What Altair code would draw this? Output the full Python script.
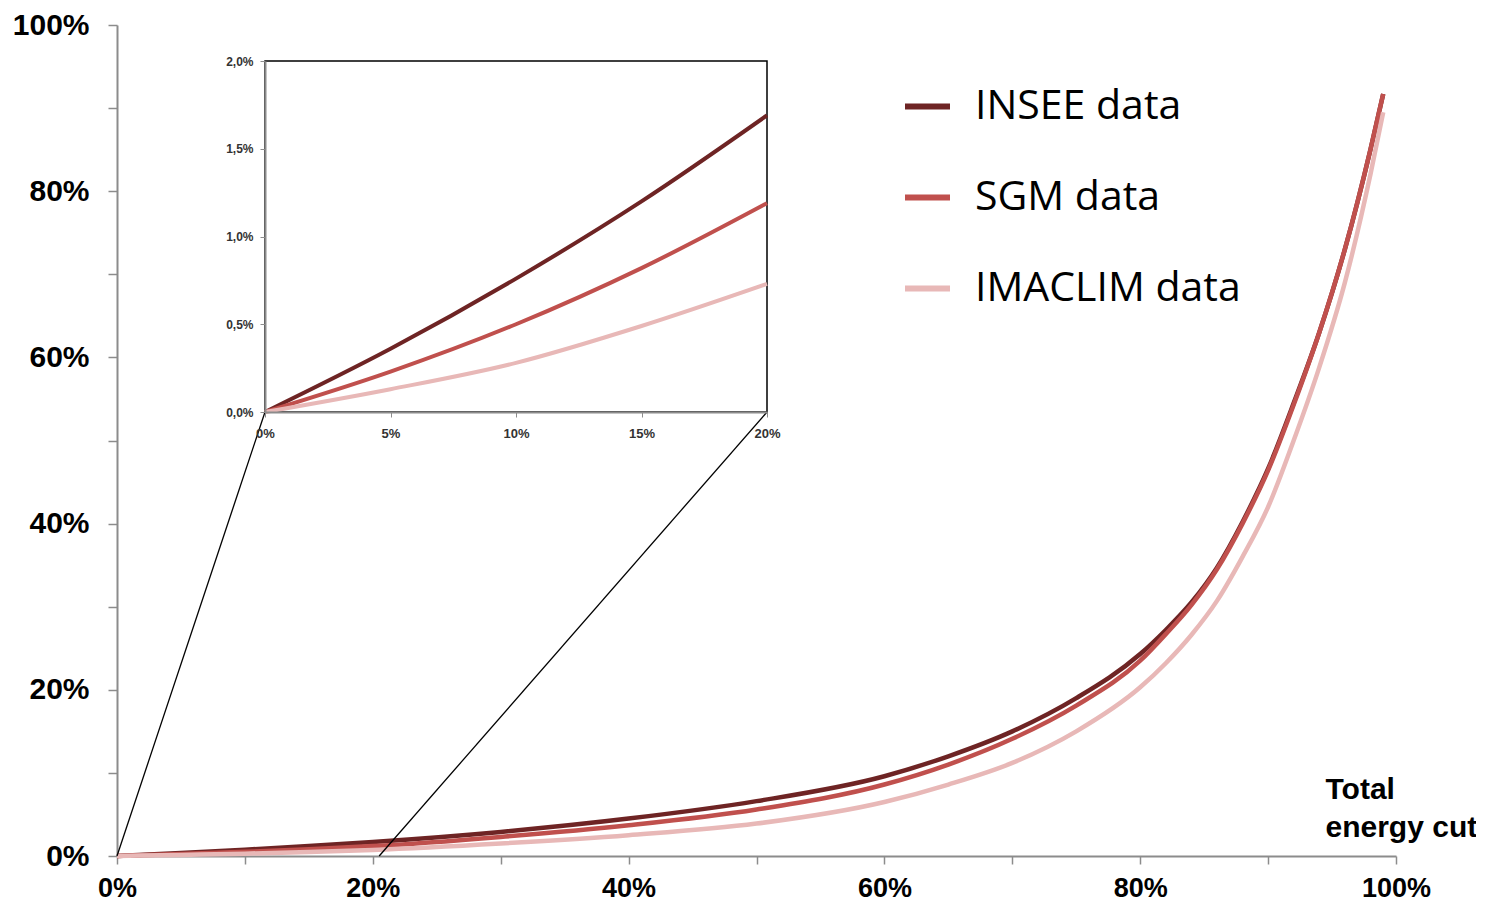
import altair as alt
import pandas as pd

# ---- data ----
cut = [0.0, 0.05, 0.10, 0.15, 0.20, 0.30, 0.40, 0.50, 0.60, 0.65, 0.70, 0.75,
       0.80, 0.82, 0.84, 0.86, 0.88, 0.90, 0.92, 0.94, 0.96, 0.98, 0.99]
insee = [0.0, 0.0036, 0.0076, 0.0120, 0.0169, 0.029, 0.045, 0.066, 0.096, 0.120,
         0.150, 0.190, 0.243, 0.272, 0.305, 0.347, 0.402, 0.466, 0.545, 0.630,
         0.730, 0.850, 0.917]
sgm = [0.0, 0.0023, 0.0050, 0.0082, 0.0119, 0.023, 0.037, 0.056, 0.086, 0.110,
       0.141, 0.181, 0.235, 0.267, 0.302, 0.345, 0.400, 0.464, 0.543, 0.630,
       0.730, 0.850, 0.917]
imaclim = [0.0, 0.0013, 0.0028, 0.0049, 0.0073, 0.015, 0.025, 0.039, 0.065, 0.086,
           0.112, 0.150, 0.203, 0.232, 0.266, 0.307, 0.360, 0.420, 0.500, 0.588,
           0.690, 0.820, 0.895]
series_names = ["INSEE data", "SGM data", "IMACLIM data"]
series_colors = ["#6e2424", "#c0504d", "#e8b8b7"]

main_ticks = [0, 0.1, 0.2, 0.3, 0.4, 0.5, 0.6, 0.7, 0.8, 0.9, 1.0]
inset_x_ticks = [0, 0.05, 0.10, 0.15, 0.20]
inset_y_ticks = [0, 0.005, 0.010, 0.015, 0.020]
x_title = ["Total", "energy cut"]

rows = []
for name, vals in zip(series_names, [insee, sgm, imaclim]):
    for c, v in zip(cut, vals):
        rows.append({"cut": c, "share": v, "series": name})
df = pd.DataFrame(rows)
inset_df = df[df["cut"] <= 0.2001]
one = pd.DataFrame({"k": [0]})

# ---- layout ----
W, H = 1279, 831
INSET_X = [148, 650]     # pixel range of the inset inside the plot area
INSET_Y = [387, 36]
GRAY = "#8c8c8c"
FONT = "Liberation Sans"

color = alt.Color(
    "series:N",
    scale=alt.Scale(domain=series_names, range=series_colors),
    legend=alt.Legend(
        orient="none", legendX=785, legendY=56, title=None, padding=0,
        symbolType="stroke", symbolSize=2025, symbolStrokeWidth=6,
        labelFont="Open Sans", labelFontSize=41, labelColor="black",
        labelOffset=22, rowPadding=45, labelLimit=400,
    ),
)

sx = alt.Scale(domain=[0, 1], nice=False, zero=True)
sy = alt.Scale(domain=[0, 1], nice=False, zero=True)
ax = alt.Axis(
    values=main_ticks, orient="bottom", grid=False,
    labelExpr="round(datum.value*10) % 2 == 0 ? format(datum.value, '.0%') : ''",
    labelFont=FONT, labelFontSize=27, labelFontWeight="bold", labelColor="black",
    labelFlush=False, labelOverlap=False, labelPadding=11,
    domainColor=GRAY, domainWidth=2, tickColor=GRAY, tickWidth=1.5, tickSize=8,
    title=x_title, titleFont=FONT, titleFontSize=30, titleFontWeight="bold",
    titleColor="black", titleX=1208, titleY=-58, titleAlign="left",
    titleBaseline="alphabetic", titleAngle=0, titleLineHeight=38,
)
ay = alt.Axis(
    values=main_ticks, orient="left", grid=False,
    labelExpr="round(datum.value*10) % 2 == 0 ? format(datum.value, '.0%') : ''",
    labelFont=FONT, labelFontSize=30, labelFontWeight="bold", labelColor="black",
    labelFlush=False, labelOverlap=False, labelPadding=19,
    domainColor=GRAY, domainWidth=2, tickColor=GRAY, tickWidth=1.5, tickSize=9,
    title=None,
)

main_lines = alt.Chart(df).mark_line(strokeWidth=4.5, interpolate="monotone").encode(
    x=alt.X("cut:Q", scale=sx, axis=ax),
    y=alt.Y("share:Q", scale=sy, axis=ay),
    color=color,
)
rule_a = alt.Chart(one).mark_rule(color="black", strokeWidth=1.3).encode(
    x=alt.X(datum=0, scale=sx, axis=ax), y=alt.Y(datum=0, scale=sy, axis=ay),
    x2=alt.value(INSET_X[0]), y2=alt.value(INSET_Y[0]),
)
rule_b = alt.Chart(one).mark_rule(color="black", strokeWidth=1.3).encode(
    x=alt.X(datum=0.205, scale=sx, axis=ax), y=alt.Y(datum=0, scale=sy, axis=ay),
    x2=alt.value(INSET_X[1]), y2=alt.value(INSET_Y[0]),
)
main_group = alt.layer(main_lines, rule_a, rule_b)

# ---- inset ----
isx = alt.Scale(domain=[0, 0.2], nice=False, range=INSET_X)
isy = alt.Scale(domain=[0, 0.02], nice=False, range=INSET_Y)
iax = alt.Axis(
    values=inset_x_ticks, orient="bottom", offset=-(H - INSET_Y[0]), grid=False,
    format=".0%", labelFont=FONT, labelFontSize=13, labelFontWeight="bold",
    labelColor="#333333", labelFlush=False, labelOverlap=False, labelPadding=10,
    domainColor=GRAY, domainWidth=2, tickColor=GRAY, tickSize=5, title=None, zindex=1,
)
iay = alt.Axis(
    values=inset_y_ticks, orient="left", offset=-INSET_X[0], grid=False,
    labelExpr="replace(format(datum.value, '.1%'), '.', ',')",
    labelFont=FONT, labelFontSize=12, labelFontWeight="bold", labelColor="#333333",
    labelFlush=False, labelOverlap=False, labelPadding=7,
    domainColor=GRAY, domainWidth=2, tickColor=GRAY, tickSize=5, title=None, zindex=1,
)
inset_box = alt.Chart(one).mark_rect(fill="white", stroke="black", strokeWidth=1.5).encode(
    x=alt.X(datum=0, scale=isx, axis=iax), x2=alt.X2(datum=0.2),
    y=alt.Y(datum=0, scale=isy, axis=iay), y2=alt.Y2(datum=0.02),
)
inset_lines = alt.Chart(inset_df).mark_line(strokeWidth=4, interpolate="monotone").encode(
    x=alt.X("cut:Q", scale=isx, axis=iax),
    y=alt.Y("share:Q", scale=isy, axis=iay),
    color=color,
)
inset_group = alt.layer(inset_box, inset_lines)

chart = (
    alt.layer(main_group, inset_group)
    .resolve_scale(x="independent", y="independent")
    .properties(
        width=W, height=H,
        autosize=alt.AutoSizeParams(type="none"),
        padding={"left": 109, "top": 17, "right": 80, "bottom": 46},
        background="white",
    )
    .configure_view(stroke=None)
)

chart.save("out.html", embed_options={"renderer": "svg", "actions": False})
